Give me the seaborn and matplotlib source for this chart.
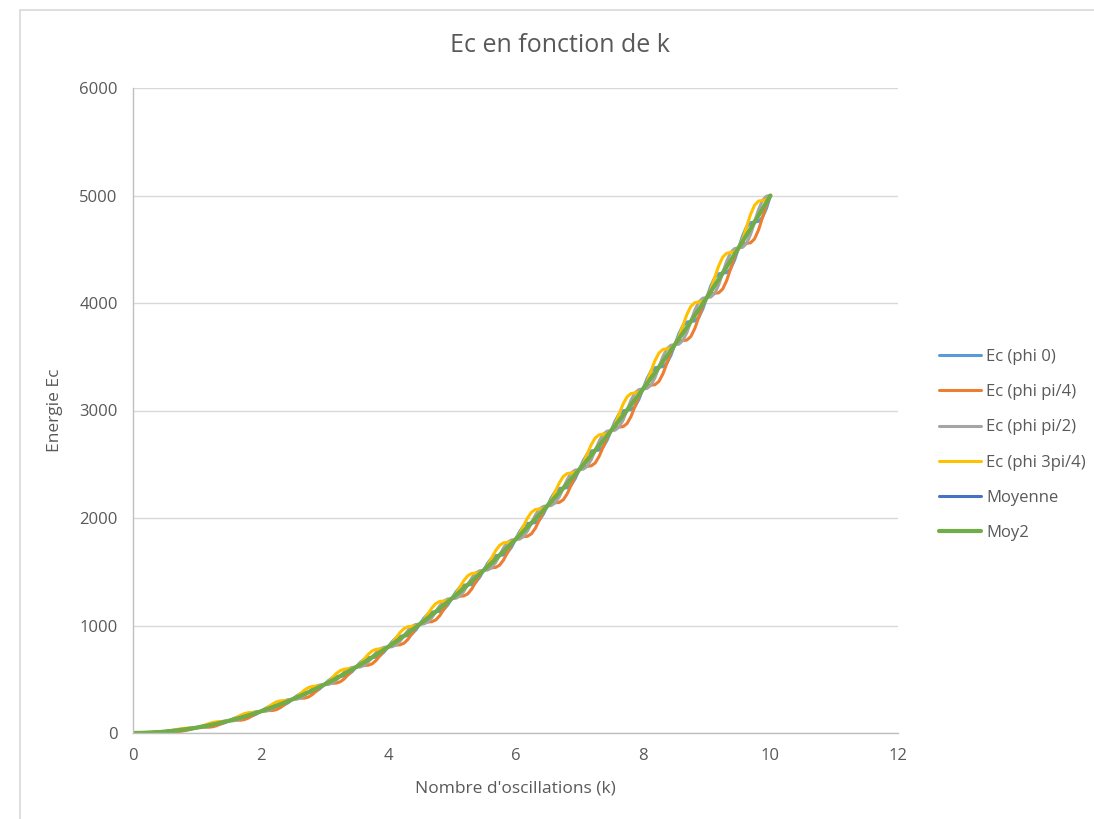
import numpy as np
import pandas as pd
import matplotlib
matplotlib.use("Agg")
import matplotlib.pyplot as plt
import seaborn as sns
from matplotlib.patches import Rectangle

k_values = np.arange(161) / 16.0

ec_phi0 = [
    0, 1, 2, 3, 3, 3, 4, 7,
    13, 19, 25, 28, 28, 28, 31, 39,
    50, 62, 72, 77, 78, 79, 84, 95,
    113, 131, 145, 152, 153, 154, 161, 177,
    200, 224, 243, 252, 253, 254, 263, 283,
    313, 343, 366, 376, 378, 380, 390, 415,
    450, 486, 513, 526, 528, 530, 543, 571,
    613, 655, 686, 701, 703, 705, 720, 753,
    800, 848, 884, 900, 903, 905, 922, 959,
    1013, 1067, 1107, 1125, 1128, 1131, 1149, 1191,
    1250, 1310, 1354, 1375, 1378, 1381, 1402, 1448,
    1513, 1579, 1627, 1650, 1653, 1656, 1679, 1729,
    1800, 1872, 1925, 1949, 1953, 1957, 1981, 2036,
    2113, 2190, 2248, 2274, 2278, 2282, 2308, 2367,
    2450, 2534, 2595, 2624, 2628, 2632, 2661, 2724,
    2813, 2902, 2968, 2998, 3003, 3008, 3038, 3105,
    3200, 3296, 3366, 3398, 3403, 3408, 3440, 3512,
    3613, 3714, 3789, 3823, 3828, 3833, 3867, 3943,
    4050, 4158, 4236, 4272, 4278, 4283, 4320, 4400,
    4513, 4626, 4709, 4747, 4753, 4759, 4797, 4881,
    5000,
]

ec_phi_pi4 = [
    0, 0, 0, 0, 0, 1, 4, 9,
    13, 14, 15, 14, 16, 22, 31, 42,
    50, 54, 54, 54, 58, 68, 84, 100,
    113, 118, 119, 119, 125, 140, 161, 183,
    200, 208, 209, 209, 217, 236, 263, 291,
    313, 322, 324, 324, 334, 357, 390, 425,
    450, 462, 463, 464, 476, 503, 543, 583,
    613, 626, 628, 630, 643, 675, 720, 766,
    800, 816, 818, 820, 835, 871, 922, 974,
    1013, 1030, 1033, 1035, 1052, 1092, 1149, 1207,
    1250, 1270, 1272, 1275, 1294, 1339, 1402, 1466,
    1513, 1534, 1537, 1540, 1561, 1610, 1679, 1749,
    1800, 1823, 1827, 1830, 1853, 1906, 1981, 2057,
    2113, 2138, 2142, 2145, 2170, 2227, 2308, 2390,
    2450, 2477, 2481, 2485, 2512, 2574, 2661, 2748,
    2813, 2842, 2846, 2850, 2879, 2945, 3038, 3132,
    3200, 3231, 3236, 3240, 3271, 3341, 3440, 3540,
    3613, 3646, 3651, 3655, 3688, 3763, 3867, 3973,
    4050, 4085, 4090, 4095, 4130, 4209, 4320, 4431,
    4513, 4550, 4555, 4560, 4597, 4680, 4797, 4914,
    5000,
]

ec_phi_pi2 = [
    0, 0, 0, 1, 3, 7, 10, 12,
    13, 13, 15, 20, 28, 38, 45, 49,
    50, 50, 54, 64, 78, 94, 106, 111,
    113, 113, 119, 133, 153, 175, 191, 199,
    200, 201, 209, 227, 253, 280, 301, 311,
    313, 314, 324, 346, 378, 411, 436, 448,
    450, 452, 463, 490, 528, 567, 597, 610,
    613, 614, 628, 659, 703, 748, 782, 797,
    800, 802, 818, 853, 903, 954, 992, 1010,
    1013, 1015, 1033, 1072, 1128, 1185, 1227, 1247,
    1250, 1253, 1272, 1316, 1378, 1441, 1488, 1509,
    1513, 1516, 1537, 1585, 1653, 1722, 1773, 1796,
    1800, 1803, 1827, 1879, 1953, 2028, 2083, 2108,
    2113, 2116, 2142, 2198, 2278, 2359, 2418, 2446,
    2450, 2454, 2481, 2542, 2628, 2715, 2779, 2808,
    2813, 2817, 2846, 2911, 3003, 3096, 3164, 3195,
    3200, 3205, 3236, 3305, 3403, 3502, 3574, 3607,
    3613, 3617, 3651, 3724, 3828, 3933, 4009, 4045,
    4050, 4055, 4090, 4169, 4278, 4389, 4470, 4507,
    4513, 4518, 4555, 4638, 4753, 4870, 4955, 4994,
    5000,
]

ec_phi_3pi4 = [
    0, 0, 2, 4, 7, 9, 10, 11,
    13, 17, 25, 33, 40, 44, 45, 46,
    50, 59, 72, 87, 98, 104, 106, 107,
    113, 126, 145, 165, 181, 189, 191, 192,
    200, 218, 243, 269, 289, 299, 301, 303,
    313, 334, 366, 398, 422, 434, 436, 438,
    450, 476, 513, 552, 580, 594, 597, 599,
    613, 643, 686, 730, 763, 779, 782, 784,
    800, 835, 884, 934, 971, 989, 992, 995,
    1013, 1052, 1107, 1163, 1204, 1224, 1227, 1231,
    1250, 1293, 1354, 1416, 1462, 1484, 1488, 1491,
    1513, 1560, 1627, 1695, 1745, 1769, 1773, 1777,
    1800, 1852, 1925, 1999, 2053, 2079, 2083, 2087,
    2113, 2169, 2248, 2327, 2386, 2414, 2418, 2423,
    2450, 2511, 2595, 2681, 2744, 2774, 2779, 2783,
    2813, 2877, 2968, 3060, 3127, 3158, 3164, 3169,
    3200, 3269, 3366, 3464, 3535, 3568, 3574, 3579,
    3613, 3686, 3789, 3892, 3968, 4003, 4009, 4015,
    4050, 4128, 4236, 4346, 4426, 4463, 4470, 4475,
    4513, 4594, 4709, 4825, 4909, 4948, 4955, 4961,
    5000,
]

series_names = ["Ec (phi 0)", "Ec (phi pi/4)", "Ec (phi pi/2)", "Ec (phi 3pi/4)", "Moyenne", "Moy2"]
x_ticks = [0, 2, 4, 6, 8, 10, 12]
y_ticks = [0, 1000, 2000, 3000, 4000, 5000, 6000]

moyenne = (np.array(ec_phi0) + np.array(ec_phi_pi4) + np.array(ec_phi_pi2) + np.array(ec_phi_3pi4)) / 4.0
moy2 = moyenne.copy()

series_values = [ec_phi0, ec_phi_pi4, ec_phi_pi2, ec_phi_3pi4, moyenne, moy2]
colors = ["#5B9BD5", "#ED7D31", "#A5A5A5", "#FFC000", "#4472C4", "#70AD47"]
widths = [2.2, 2.2, 2.2, 2.2, 2.2, 3.0]

sns.set_theme(style="white")
plt.rcParams["font.family"] = ["Open Sans", "DejaVu Sans"]

fig = plt.figure(figsize=(10.94, 8.19), dpi=100)
ax = fig.add_axes([133 / 1094, 1 - 733 / 819, (898 - 133) / 1094, (733 - 88) / 819])

for name, vals, c, w in zip(series_names, series_values, colors, widths):
    df = pd.DataFrame({"k": k_values, "Ec": vals})
    sns.lineplot(data=df, x="k", y="Ec", ax=ax, color=c, linewidth=w, label=name,
                 sort=False, estimator=None)

ax.set_xlim(0, 12)
ax.set_ylim(0, 6000)
ax.set_xticks(x_ticks)
ax.set_yticks(y_ticks)
ax.yaxis.grid(True, color="#D9D9D9", linewidth=1.0)
ax.xaxis.grid(False)
ax.set_axisbelow(True)
for s in ["top", "right"]:
    ax.spines[s].set_visible(False)
ax.spines["left"].set_color("#BFBFBF")
ax.spines["bottom"].set_color("#BFBFBF")
ax.spines["left"].set_linewidth(1.0)
ax.spines["bottom"].set_linewidth(1.0)
ax.tick_params(axis="x", length=0, labelsize=12, colors="#595959", pad=11)
ax.tick_params(axis="y", length=0, labelsize=12, colors="#595959", pad=11)

ax.set_xlabel("Nombre d'oscillations (k)", fontsize=12.5, color="#595959", labelpad=12)
ax.set_ylabel("Energie Ec", fontsize=12.5, color="#595959", labelpad=12)
fig.text(560 / 1094, 1 - 46 / 819, "Ec en fonction de k", ha="center", va="center",
         fontsize=18, color="#595959")

leg = ax.legend(loc="center left", bbox_to_anchor=(924 / 1094, 1 - 445 / 819),
                bbox_transform=fig.transFigure, frameon=False, fontsize=12,
                handlelength=2.5, labelspacing=1.15, handletextpad=0.35)
for t in leg.get_texts():
    t.set_color("#595959")

# chart area border
fig.patches.append(Rectangle((20 / 1094, -0.1), 1.2, 1 - 10 / 819 + 0.1, transform=fig.transFigure,
                             fill=False, edgecolor="#D9D9D9", linewidth=1.2))

fig.savefig("out.png", dpi=100)
